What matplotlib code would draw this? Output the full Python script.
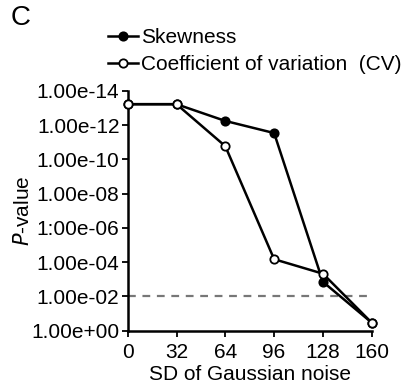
import matplotlib
matplotlib.use('Agg')
import matplotlib.pyplot as plt

plt.rcParams['font.family'] = ['Liberation Sans', 'DejaVu Sans']

# SD of the added Gaussian noise and the p-values of each feature
noise_sd = [0, 32, 64, 96, 128, 160]
p_skewness = [6e-14, 6e-14, 5.7e-13, 2.9e-12, 1.4e-3, 0.34]
p_cv = [6e-14, 6e-14, 1.7e-11, 6.7e-5, 4.7e-4, 0.34]
y_ticks = [1e0, 1e-2, 1e-4, 1e-6, 1e-8, 1e-10, 1e-12, 1e-14]
y_ticklabels = ['1.00e+00', '1.00e-02', '1.00e-04', '1:00e-06', '1.00e-08',
                '1.00e-10', '1.00e-12', '1.00e-14']
threshold = 0.01

fs = 15

fig = plt.figure(figsize=(4.02, 3.85), dpi=100)
ax = fig.add_axes([0.3177, 0.141, 0.607, 0.623])

ax.plot(noise_sd, p_skewness, color='black', lw=1.8, marker='o', ms=6,
        mfc='black', mec='black', mew=1.3, label='Skewness', clip_on=False, zorder=3)
ax.plot(noise_sd, p_cv, color='black', lw=1.8, marker='o', ms=6,
        mfc='white', mec='black', mew=1.3, label='Coefficient of variation  (CV)',
        clip_on=False, zorder=4)
ax.axhline(threshold, color='#777777', lw=1.6, ls=(0, (3.5, 3)), zorder=1)

ax.set_yscale('log')
ax.set_ylim(1e0, 1e-14)
ax.set_xlim(0, 160)
ax.set_xticks(noise_sd)
ax.set_yticks(y_ticks)
ax.set_yticklabels(y_ticklabels)
ax.minorticks_off()

for s in ['top', 'right']:
    ax.spines[s].set_visible(False)
for s in ['left', 'bottom']:
    ax.spines[s].set_linewidth(1.8)
ax.tick_params(direction='out', width=1.3, length=4, labelsize=fs, colors='black', pad=2)
ax.tick_params(axis='x', pad=5)

ax.set_xlabel('SD of Gaussian noise', fontsize=fs, labelpad=2)
ax.set_ylabel('$\\it{P}$-value', fontsize=fs, labelpad=-1)

ax.legend(loc='upper left', bbox_to_anchor=(108 / 402, 1 - 28 / 385),
          bbox_transform=fig.transFigure, frameon=False, fontsize=fs,
          handlelength=1.45, handletextpad=0.15, borderpad=0, borderaxespad=0,
          labelspacing=0.4)

fig.text(11 / 402, 1 - 18 / 385, 'C', fontsize=20, va='center', ha='left')

fig.savefig('out.png', dpi=100)
